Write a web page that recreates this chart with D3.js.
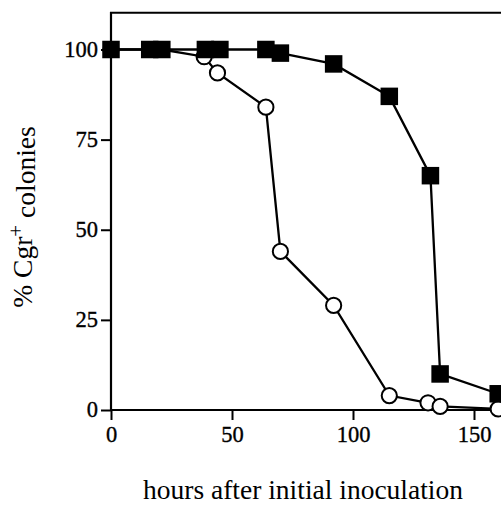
<!DOCTYPE html>
<html>
<head>
<meta charset="utf-8">
<script src="https://cdn.jsdelivr.net/npm/d3@7"></script>
<style>
  body { margin: 0; background: #fff; }
  svg { display: block; font-family: "Liberation Serif", "Times New Roman", serif; }
  svg text { font-family: "Liberation Serif", "Times New Roman", serif; }
</style>
</head>
<body>
<div id="chart"></div>
<script>
// data
var squareHours = [0, 16, 21, 39, 45, 64, 70, 92, 115, 132, 136, 160];
var squarePct   = [100, 100, 100, 100, 100, 100, 99, 96, 87, 65, 10, 4.5];
var circleHours = [0, 16, 21, 38.5, 44, 64, 70, 92, 115, 131, 136, 160];
var circlePct   = [100, 100, 100, 98, 93.5, 84, 44, 29, 4, 2, 1, 0.3];
var xTicks = [0, 50, 100, 150];
var yTicks = [0, 25, 50, 75, 100];

var width = 501, height = 508;

var svg = d3.select("#chart").append("svg")
    .attr("width", width)
    .attr("height", height);

var x = d3.scaleLinear().domain([0, 150]).range([111, 474]);
var y = d3.scaleLinear().domain([0, 100]).range([410, 49.5]);

var squares = squareHours.map(function (h, i) { return [h, squarePct[i]]; });
var circles = circleHours.map(function (h, i) { return [h, circlePct[i]]; });

// frame (right side runs off the page)
svg.append("path")
    .attr("d", "M" + x(180) + "," + y(110.2) + "H" + x(0) + "V" + y(0) + "H" + x(180))
    .attr("fill", "none")
    .attr("stroke", "#000")
    .attr("stroke-width", 2.2);

// axes
var yAxis = svg.append("g")
    .attr("transform", "translate(" + x(0) + ",0)")
    .call(d3.axisLeft(y).tickValues(yTicks).tickSize(10).tickPadding(3));
var xAxis = svg.append("g")
    .attr("transform", "translate(0," + y(0) + ")")
    .call(d3.axisBottom(x).tickValues(xTicks).tickSize(10).tickPadding(6));

[xAxis, yAxis].forEach(function (ax) {
    ax.attr("font-family", null).attr("font-size", null);
    ax.select(".domain").remove();
    ax.selectAll("line").attr("stroke", "#000").attr("stroke-width", 2);
    ax.selectAll("text")
        .attr("fill", "#000")
        .attr("stroke", "#000")
        .attr("stroke-width", 0.35)
        .style("font-family", "'Liberation Serif', serif")
        .style("font-size", "22.5px");
});
yAxis.selectAll("text").attr("dy", "0.3em");
xAxis.selectAll("text").attr("dy", "0.72em");

var line = d3.line()
    .x(function (d) { return x(d[0]); })
    .y(function (d) { return y(d[1]); });

// open circles series
svg.append("path")
    .datum(circles)
    .attr("d", line)
    .attr("fill", "none")
    .attr("stroke", "#000")
    .attr("stroke-width", 2.3);

svg.append("g").selectAll("circle")
    .data(circles)
    .join("circle")
    .attr("cx", function (d) { return x(d[0]); })
    .attr("cy", function (d) { return y(d[1]); })
    .attr("r", 7.6)
    .attr("fill", "#fff")
    .attr("stroke", "#000")
    .attr("stroke-width", 2);

// filled squares series
svg.append("path")
    .datum(squares)
    .attr("d", line)
    .attr("fill", "none")
    .attr("stroke", "#000")
    .attr("stroke-width", 2.3);

var s = 17.5;
svg.append("g").selectAll("rect")
    .data(squares)
    .join("rect")
    .attr("x", function (d) { return x(d[0]) - s / 2; })
    .attr("y", function (d) { return y(d[1]) - s / 2; })
    .attr("width", s)
    .attr("height", s)
    .attr("fill", "#000");

// axis titles
svg.append("text")
    .attr("x", 303)
    .attr("y", 499)
    .attr("text-anchor", "middle")
    .style("font-size", "27.5px")
    .text("hours after initial inoculation");

var yl = svg.append("text")
    .attr("transform", "translate(32,217) rotate(-90)")
    .attr("text-anchor", "middle")
    .style("font-size", "27.5px");
yl.append("tspan").text("% Cgr");
yl.append("tspan").attr("dy", "-0.45em").style("font-size", "21px").text("+");
yl.append("tspan").attr("dy", "0.45em").text(" colonies");
</script>
</body>
</html>
